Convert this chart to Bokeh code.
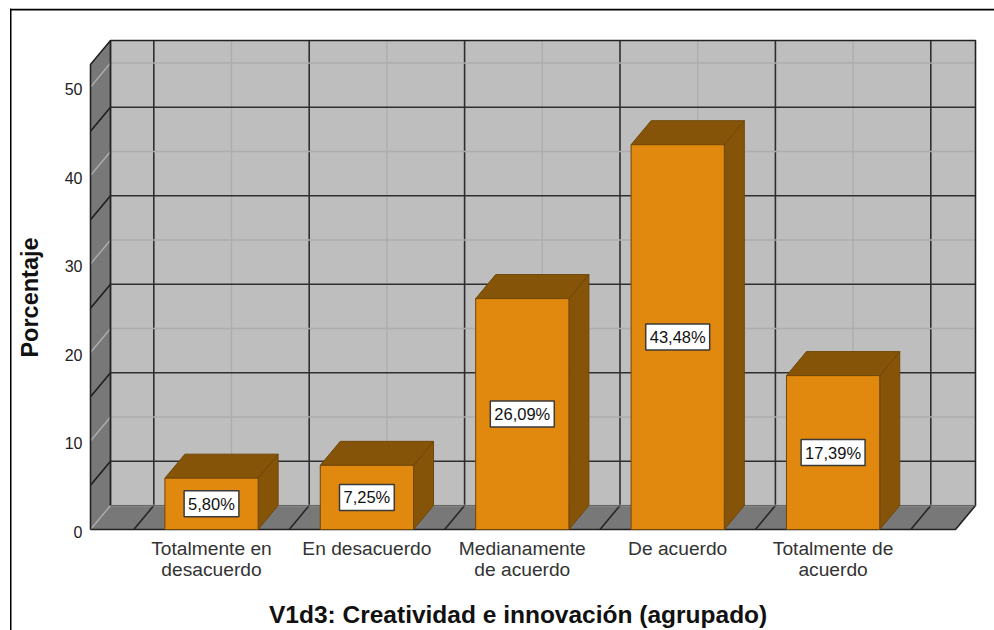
from bokeh.plotting import figure
from bokeh.models import BoxAnnotation, FixedTicker, Label, Range1d
from bokeh.embed import file_html
from bokeh.resources import INLINE

categories = ["Totalmente en\ndesacuerdo", "En desacuerdo", "Medianamente\nde acuerdo", "De acuerdo", "Totalmente de\nacuerdo"]
values = [5.80, 7.25, 26.09, 43.48, 17.39]
value_labels = ["5,80%", "7,25%", "26,09%", "43,48%", "17,39%"]
y_ticks = [0, 10, 20, 30, 40, 50]
y_dark = [5, 15, 25, 35, 45]
x_title = "V1d3: Creatividad  e innovación (agrupado)"
y_title = "Porcentaje"

FONT = "Liberation Sans"
PX_X, PX_Y = 155.4, 8.85
DX, DY = 20 / PX_X, 24 / PX_Y
X0 = 211
XL, XR = (90 - X0) / PX_X, (955 - X0) / PX_X
YT = 52.54
HALF = 0.30
WALL, SHADE = "#bebebe", "#787878"
DARK, LIGHT = "#2e2e2e", "#adadad"
ORANGE, BROWN, EDGE = "#e1890f", "#865409", "#6f4708"

def dx(px):
    return (px - X0) / PX_X

def dy(py):
    return (529 - py) / PX_Y

n = len(categories)
p = figure(width=994, height=630, min_border=0,
           x_range=(dx(0), dx(994)), y_range=(dy(630), dy(0)),
           output_backend="svg", toolbar_location=None, background_fill_color="white")
p.outline_line_color = None
p.grid.visible = False

# walls
p.patch([XL + DX, XR + DX, XR + DX, XL + DX], [DY, DY, DY + YT, DY + YT], fill_color=WALL, line_color=None)
p.patch([XL, XL + DX, XL + DX, XL], [0, DY, DY + YT, YT], fill_color=SHADE, line_color=None)
p.patch([XL, XR, XR + DX, XL + DX], [0, 0, DY, DY], fill_color=SHADE, line_color=None)

bounds = [i + 0.5 for i in range(-1, n + 0)]
bounds = [b for b in bounds if XL < b < XR]
# dark verticals
p.multi_line([[b + DX, b + DX] for b in bounds], [[DY, DY + YT] for b in bounds], line_color=DARK, line_width=1.6)
p.multi_line([[b, b + DX] for b in bounds], [[0, DY] for b in bounds], line_color="#262626", line_width=1.6)
# light grid
p.multi_line([[XL + DX, XR + DX] for t in y_ticks], [[t + DY, t + DY] for t in y_ticks], line_color=LIGHT, line_width=1.4)
p.multi_line([[XL, XL + DX] for t in y_ticks], [[t, t + DY] for t in y_ticks], line_color=LIGHT, line_width=1.4)
p.multi_line([[i + DX, i + DX] for i in range(n)], [[DY, DY + YT] for i in range(n)], line_color=LIGHT, line_width=1.4)
# dark horizontals
p.multi_line([[XL + DX, XR + DX] for t in y_dark], [[t + DY, t + DY] for t in y_dark], line_color=DARK, line_width=1.6)
p.multi_line([[XL, XL + DX] for t in y_dark], [[t, t + DY] for t in y_dark], line_color="#1e1e1e", line_width=1.6)
# frame edges
p.line([XL, XL, XL + DX, XR + DX, XR + DX, XR, XL], [0, YT, YT + DY, YT + DY, DY, 0, 0], line_color="#222222", line_width=1.6)
p.line([XL + DX, XL + DX], [DY, YT + DY], line_color="#222222", line_width=1.8)
p.line([XL + DX, XR + DX], [DY, DY], line_color="#666666", line_width=1.2)

# bars
xs = list(range(n))
p.patches([[i + HALF, i + HALF + DX, i + HALF + DX, i + HALF] for i in xs],
          [[0, DY, v + DY, v] for v in values], fill_color=BROWN, line_color=EDGE, line_width=1)
p.patches([[i - HALF, i + HALF, i + HALF + DX, i - HALF + DX] for i in xs],
          [[v, v, v + DY, v + DY] for v in values], fill_color=BROWN, line_color=EDGE, line_width=1)
p.quad(left=[i - HALF for i in xs], right=[i + HALF for i in xs], bottom=0, top=values,
       fill_color=ORANGE, line_color=EDGE, line_width=1)

for i, v, t in zip(xs, values, value_labels):
    p.add_layout(Label(x=i, y=v / 2, text=t, text_align="center", text_baseline="middle",
                       text_font=FONT, text_font_size="16.5px", text_color="#111111",
                       background_fill_color="white", border_line_color="#3a3a3a", border_line_width=1.5,
                       padding=4))

# axes, pinned inside the frame
p.extra_y_ranges = {"tick_labels": Range1d(dy(630) + 0.28, dy(0) + 0.28)}
p.yaxis.y_range_name = "tick_labels"
p.yaxis.fixed_location = XL
p.yaxis.ticker = FixedTicker(ticks=y_ticks)
p.yaxis.axis_line_color = None
p.yaxis.major_tick_line_color = None
p.yaxis.major_tick_out = 0
p.yaxis.minor_tick_line_color = None
p.yaxis.major_label_standoff = 8
p.yaxis.major_label_text_font = FONT
p.yaxis.major_label_text_font_size = "16px"
p.yaxis.major_label_text_color = "#222222"

p.xaxis.fixed_location = 0
p.xaxis.ticker = FixedTicker(ticks=xs)
p.xaxis.major_label_overrides = {i: c for i, c in zip(xs, categories)}
p.xaxis.axis_line_color = None
p.xaxis.major_tick_line_color = None
p.xaxis.major_tick_out = 0
p.xaxis.minor_tick_line_color = None
p.xaxis.major_label_standoff = 8
p.xaxis.major_label_text_font = FONT
p.xaxis.major_label_text_font_size = "19.2px"
p.xaxis.major_label_text_line_height = 1.04
p.xaxis.major_label_text_color = "#333333"

# titles
p.add_layout(Label(x=dx(521), y=dy(614), text=x_title, text_align="center",
                   text_baseline="middle", text_font=FONT, text_font_size="24.5px", text_font_style="bold",
                   text_color="#111111"))
p.add_layout(Label(x=dx(29), y=dy(297), text=y_title, text_align="center",
                   text_baseline="middle", angle=90, angle_units="deg", text_font=FONT,
                   text_font_size="23.5px", text_font_style="bold", text_color="#111111"))

# page border
p.add_layout(BoxAnnotation(left=dx(9.5), right=dx(994), top=dy(8.3), bottom=dy(10), fill_color="black",
                           fill_alpha=1, line_color=None))
p.add_layout(BoxAnnotation(left=dx(9.5), right=dx(11), top=dy(8.3), bottom=dy(630), fill_color="black",
                           fill_alpha=1, line_color=None))

open("out.html", "w").write(file_html(p, INLINE))
